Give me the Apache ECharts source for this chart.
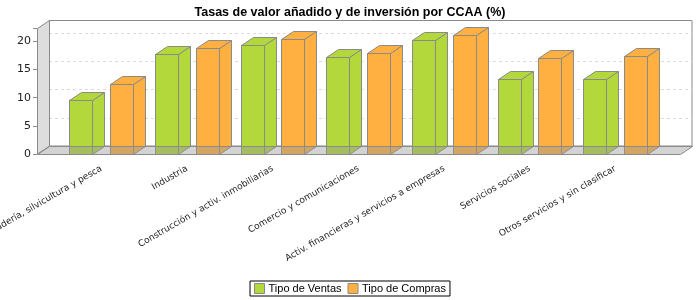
<!DOCTYPE html>
<html>
<head>
<meta charset="utf-8">
<script src="https://cdn.jsdelivr.net/npm/echarts@6/dist/echarts.min.js"></script>
<style>
  html, body { margin: 0; padding: 0; background: #fff; }
  #chart { width: 700px; height: 300px; }
</style>
</head>
<body>
<div id="chart"></div>
<script>
var categories = [
  "Agricultura, ganadería, silvicultura y pesca",
  "Industria",
  "Construcción y activ. inmobiliarias",
  "Comercio y comunicaciones",
  "Activ. financieras y servicios a empresas",
  "Servicios sociales",
  "Otros servicios y sin clasificar"
];
var ventas = [9.6, 17.85, 19.3, 17.25, 20.3, 13.4, 13.4];
var compras = [12.5, 18.9, 20.5, 18.0, 21.2, 17.1, 17.5];
var yTicks = [0, 5, 10, 15, 20];

var yMax = 22.3;
var dx = 12, dy = 8;           // profundidad 3D
var plotL = 37, plotT = 28.5, plotB = 154, plotR = 680;
var green = "#b2d83c", orange = "#ffb040", edge = "#8a8a8a";

// cara frontal + superior + lateral de cada barra
function bar3d(offset, color) {
  return function (params, api) {
    var top = api.coord([api.value(0), api.value(1)]);
    var base = api.coord([api.value(0), 0]);
    var band = api.size([1, 0])[0];
    var w = band * 0.272;
    var x0 = Math.round(top[0] + offset * band - w / 2) + 0.5;
    var x1 = x0 + Math.round(w);
    var y0 = Math.round(top[1]) + 0.5;
    var y1 = Math.round(base[1]) + 0.5;
    var st = { fill: color, stroke: edge, lineWidth: 1 };
    return {
      type: "group",
      children: [
        { type: "polygon", shape: { points: [[x1, y0], [x1 + dx, y0 - dy], [x1 + dx, y1 - dy], [x1, y1]] }, style: st },
        { type: "polygon", shape: { points: [[x0, y0], [x0 + dx, y0 - dy], [x1 + dx, y0 - dy], [x1, y0]] }, style: st },
        { type: "rect", shape: { x: x0, y: y0, width: x1 - x0, height: y1 - y0 }, style: st }
      ]
    };
  };
}

var myChart = echarts.init(document.getElementById("chart"));
var option = {
  animation: false,
  title: {
    text: "Tasas de valor añadido y de inversión por CCAA (%)",
    left: "center",
    top: 1,
    textStyle: { fontFamily: "Liberation Sans", fontSize: 12.5, fontWeight: "bold", color: "#000" }
  },
  legend: {
    bottom: 4,
    left: "center",
    borderColor: "#000",
    borderWidth: 1,
    padding: [2, 4, 2, 4],
    itemGap: 6,
    itemWidth: 10,
    itemHeight: 10,
    icon: "rect",
    textStyle: { fontFamily: "Liberation Sans", fontSize: 11, color: "#000", padding: [0, 0, 0, -1] },
    data: [
      { name: "Tipo de Ventas", itemStyle: { color: green, borderColor: edge, borderWidth: 1 } },
      { name: "Tipo de Compras", itemStyle: { color: orange, borderColor: edge, borderWidth: 1 } }
    ]
  },
  grid: [
    // pared del fondo
    { left: plotL + dx, right: 700 - plotR - dx, top: plotT - dy, bottom: 300 - plotB + dy,
      show: true, backgroundColor: "#fff", borderColor: edge, borderWidth: 1, outerBoundsMode: "none" },
    // eje frontal
    { left: plotL, right: 700 - plotR, top: plotT, bottom: 300 - plotB, outerBoundsMode: "none" },
    // barras
    { left: 58.5, right: 41.8, top: plotT, bottom: 300 - plotB, outerBoundsMode: "none" }
  ],
  xAxis: [
    { gridIndex: 0, type: "value", show: false },
    { gridIndex: 1, type: "value", show: false },
    {
      gridIndex: 2, type: "category", data: categories,
      axisLine: { show: false }, axisTick: { show: false },
      axisLabel: { interval: 0, rotate: 30, margin: 14, fontFamily: "DejaVu Sans", fontSize: 9, color: "#222" }
    }
  ],
  yAxis: [
    {
      gridIndex: 0, type: "value", min: 0, max: yMax, interval: 5,
      axisLine: { show: false }, axisTick: { show: false }, axisLabel: { show: false },
      splitLine: { show: true, showMinLine: false, showMaxLine: false, lineStyle: { color: "#dcdcdc", type: [3, 3] } }
    },
    {
      gridIndex: 1, type: "value", min: 0, max: yMax, interval: 5,
      axisLine: { show: false },
      axisTick: { show: true, length: 4, lineStyle: { color: edge } },
      axisLabel: {
        margin: 6, fontFamily: "DejaVu Sans", fontSize: 11, color: "#222",
        formatter: function (v) { return yTicks.indexOf(v) >= 0 ? String(v) : ""; }
      },
      splitLine: { show: false }
    },
    { gridIndex: 2, type: "value", min: 0, max: yMax, show: false }
  ],
  series: [
    {
      name: "Tipo de Ventas", type: "custom", xAxisIndex: 2, yAxisIndex: 2,
      itemStyle: { color: green },
      renderItem: bar3d(-0.238, green),
      data: ventas.map(function (v, i) { return [i, v]; }), z: 3
    },
    {
      name: "Tipo de Compras", type: "custom", xAxisIndex: 2, yAxisIndex: 2,
      itemStyle: { color: orange },
      renderItem: bar3d(0.238, orange),
      data: compras.map(function (v, i) { return [i, v]; }), z: 3
    }
  ],
  graphic: [
    // pared izquierda
    { type: "polygon", z: 1, silent: true,
      shape: { points: [[plotL + 0.5, plotT], [plotL + dx + 0.5, plotT - dy], [plotL + dx + 0.5, plotB - dy], [plotL + 0.5, plotB]] },
      style: { fill: "#dddddd", stroke: edge, lineWidth: 1 } },
    // suelo (semitransparente sobre las barras)
    { type: "polygon", z: 10, silent: true,
      shape: { points: [[plotL + 0.5, plotB + 0.5], [plotR + 0.5, plotB + 0.5], [plotR + dx + 0.5, plotB - dy + 0.5], [plotL + dx + 0.5, plotB - dy + 0.5]] },
      style: { fill: "rgba(150,150,150,0.42)", stroke: edge, lineWidth: 1 } }
  ]
};
myChart.setOption(option);
window.addEventListener("resize", function () {
  myChart.resize();
});
</script>
</body>
</html>
